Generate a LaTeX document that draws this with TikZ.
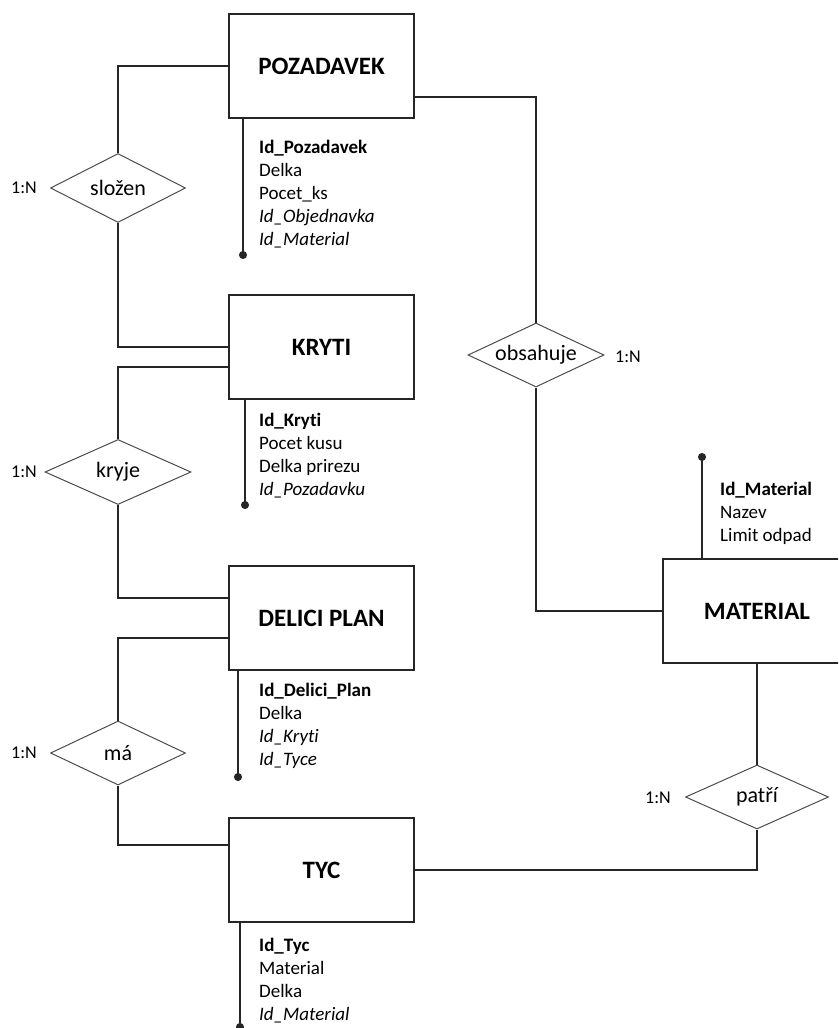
\documentclass[tikz,border=0pt]{standalone}
\usepackage{fontspec}
\setmainfont[Ligatures=NoCommon]{Carlito}
\usetikzlibrary{shapes.geometric,arrows.meta}

\begin{document}
\begin{tikzpicture}[
    x=1pt, y=-1pt,
    font=\rmfamily,
    entity/.style={draw=black!85, line width=1.3pt, rectangle,
        minimum width=185pt, minimum height=104pt, inner sep=0pt,
        font=\fontsize{25}{30}\selectfont\bfseries},
    relation/.style={draw=black!70, line width=1pt, diamond, aspect=2,
        inner sep=0pt, font=\fontsize{22}{26}\selectfont},
    attrs/.style={anchor=north west, align=left, inner sep=0pt,
        font=\fontsize{19}{23}\selectfont},
    card/.style={inner sep=0pt, font=\fontsize{18}{22}\selectfont},
    link/.style={draw=black!85, line width=1.3pt},
    key/.style={link, -{Circle[length=8pt]}}
]

\clip (0,0) rectangle (838,1028);

% ==========================================
% 1. ENTITIES
% ==========================================

\node[entity] (pozadavek) at (321.5,66) {POZADAVEK};
\node[entity] (kryti) at (321.5,347) {KRYTI};
\node[entity] (delici) at (321.5,618) {DELICI PLAN};
\node[entity] (tyc) at (321.5,870) {TYC};
\node[entity, minimum width=188pt] (material) at (757,611) {MATERIAL};

% ==========================================
% 2. RELATIONSHIPS
% ==========================================

\node[relation, minimum width=135pt, minimum height=69pt] (slozen) at (118,188) {složen};
\node[relation, minimum width=146pt, minimum height=65pt] (kryje) at (118,472) {kryje};
\node[relation, minimum width=135pt, minimum height=64pt] (ma) at (118,753) {má};
\node[relation, minimum width=136pt, minimum height=64pt] (obsahuje) at (536,355) {obsahuje};
\node[relation, minimum width=143pt, minimum height=64pt] (patri) at (757,797) {patří};

% cardinalities
\node[card] (cardSlozen) at (24,188) {1:N};
\node[card] (cardKryje) at (24,472) {1:N};
\node[card] (cardMa) at (24,753) {1:N};
\node[card] (cardObsahuje) at (628,357) {1:N};
\node[card] (cardPatri) at (658,798) {1:N};

% ==========================================
% 3. CONNECTORS
% ==========================================

\draw[link] (pozadavek.west) -| (slozen.north);
\draw[link] (slozen.south) |- (kryti.west);

\draw[link] ([yshift=-20pt]kryti.west) -| (kryje.north);
\draw[link] (kryje.south) |- ([yshift=20pt]delici.west);

\draw[link] ([yshift=-20pt]delici.west) -| (ma.north);
\draw[link] (ma.south) |- ([yshift=25pt]tyc.west);

\draw[link] ([yshift=-31pt]pozadavek.east) -| (obsahuje.north);
\draw[link] (obsahuje.south) |- (material.west);

\draw[link] (tyc.east) -| (patri.south);
\draw[link] (patri.north) -- (material.south);

% ==========================================
% 4. ATTRIBUTES
% ==========================================

\coordinate (pozKey) at (243,259);
\coordinate (krytiKey) at (245,509);
\coordinate (deliciKey) at (238,781);
\coordinate (tycKey) at (240,1031);
\coordinate (materialKey) at (702,453);

\draw[key] (pozadavek.south -| pozKey) -- (pozKey);
\draw[key] (kryti.south -| krytiKey) -- (krytiKey);
\draw[key] (delici.south -| deliciKey) -- (deliciKey);
\draw[key] (tyc.south -| tycKey) -- (tycKey);
\draw[key] (material.north -| materialKey) -- (materialKey);

\node[attrs] (pozAttr) at (259,140)
    {\textbf{Id\_Pozadavek}\\Delka\\Pocet\_ks\\\textit{Id\_Objednavka}\\\textit{Id\_Material}};
\node[attrs] (krytiAttr) at (259,413)
    {\textbf{Id\_Kryti}\\Pocet kusu\\Delka prirezu\\\textit{Id\_Pozadavku}};
\node[attrs] (deliciAttr) at (259,683)
    {\textbf{Id\_Delici\_Plan}\\Delka\\\textit{Id\_Kryti}\\\textit{Id\_Tyce}};
\node[attrs] (tycAttr) at (259,938)
    {\textbf{Id\_Tyc}\\Material\\Delka\\\textit{Id\_Material}};
\node[attrs] (materialAttr) at (720,482)
    {\textbf{Id\_Material}\\Nazev\\Limit odpad};

\end{tikzpicture}
\end{document}
